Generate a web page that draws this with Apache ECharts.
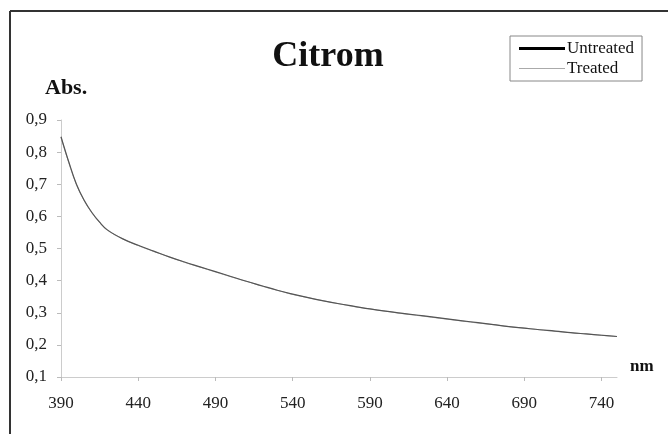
<!DOCTYPE html>
<html>
<head>
<meta charset="utf-8">
<script src="https://cdn.jsdelivr.net/npm/echarts@6/dist/echarts.min.js"></script>
<style>
html,body{margin:0;padding:0;background:#fff;}
#c{width:668px;height:434px;}
</style>
</head>
<body>
<div id="c"></div>
<script>
var wavelengths = [390,395,400,405,410,415,420,430,440,450,460,470,480,490,500,510,520,530,540,550,560,570,580,590,600,610,620,630,640,650,660,670,680,690,700,710,720,730,740,750];
var untreated   = [0.848,0.770,0.700,0.650,0.612,0.582,0.558,0.530,0.510,0.492,0.474,0.458,0.443,0.428,0.413,0.398,0.384,0.370,0.358,0.347,0.337,0.328,0.320,0.312,0.305,0.299,0.293,0.287,0.281,0.275,0.269,0.263,0.257,0.252,0.247,0.243,0.238,0.234,0.230,0.226];
var treated     = [0.846,0.768,0.699,0.649,0.611,0.581,0.557,0.530,0.509,0.491,0.474,0.457,0.442,0.427,0.412,0.398,0.383,0.370,0.357,0.347,0.337,0.328,0.319,0.312,0.305,0.298,0.292,0.286,0.280,0.274,0.268,0.263,0.257,0.252,0.247,0.242,0.238,0.234,0.230,0.226];
var xTicks = {min:390, max:750, interval:50};
var yTicks = {min:0.1, max:0.9, interval:0.1};

function pairs(xs, ys){ return xs.map(function(x,i){ return [x, ys[i]]; }); }
var serif = "'Liberation Serif', 'DejaVu Serif', serif";

var chart = echarts.init(document.getElementById('c'), null, {renderer:'canvas'});
chart.setOption({
  animation:false,
  backgroundColor:'#fff',
  title:{
    text:'Citrom', left:323, top:34, textAlign:'center',
    textStyle:{fontFamily:serif, fontSize:36, fontWeight:'bold', color:'#111'}
  },
  legend:{
    orient:'vertical', left:510, top:36,
    borderColor:'#888', borderWidth:1, padding:[4,8,4,9],
    itemWidth:46, itemHeight:10, itemGap:3,
    textStyle:{fontFamily:serif, fontSize:17, color:'#111', padding:[0,0,0,-3]},
    data:[
      {name:'Untreated', icon:'path://M0,0L46,0L46,3L0,3Z', itemStyle:{color:'#000'}},
      {name:'Treated', icon:'path://M0,0L46,0L46,1L0,1Z', itemStyle:{color:'#aaa'}}
    ]
  },
  grid:{left:61, right:51, top:120, bottom:57},
  xAxis:{
    type:'value', min:xTicks.min, max:xTicks.max, interval:xTicks.interval,
    axisLine:{lineStyle:{color:'#ccc', width:1}},
    axisTick:{show:true, length:4, lineStyle:{color:'#bbb'}},
    splitLine:{show:false},
    axisLabel:{showMaxLabel:false, margin:18, fontFamily:serif, fontSize:17, color:'#222'}
  },
  yAxis:{
    type:'value', min:yTicks.min, max:yTicks.max, interval:yTicks.interval,
    axisLine:{show:true, lineStyle:{color:'#ccc', width:1}},
    axisTick:{show:true, length:4, lineStyle:{color:'#bbb'}},
    splitLine:{show:false},
    axisLabel:{margin:14, fontFamily:serif, fontSize:17, color:'#222',
      formatter:function(v){ return v.toFixed(1).replace('.', ','); }}
  },
  series:[
    {name:'Treated', type:'line', data:pairs(wavelengths, treated), symbol:'none', smooth:0.4, z:2,
      lineStyle:{color:'#aaa', width:1}, itemStyle:{color:'#aaa'}},
    {name:'Untreated', type:'line', data:pairs(wavelengths, untreated), symbol:'none', smooth:0.4, z:3,
      lineStyle:{color:'#555', width:1.2}, itemStyle:{color:'#000'}}
  ],
  graphic:[
    {type:'line', shape:{x1:10, y1:11, x2:668, y2:11}, style:{stroke:'#333', lineWidth:2}},
    {type:'line', shape:{x1:10, y1:11, x2:10, y2:434}, style:{stroke:'#333', lineWidth:2}},
    {type:'text', left:45, top:77, style:{text:'Abs.', font:"bold 22px 'Liberation Serif', serif", fill:'#111'}},
    {type:'text', left:630, top:358, style:{text:'nm', font:"bold 17px 'Liberation Serif', serif", fill:'#111'}}
  ]
});
</script>
</body>
</html>
